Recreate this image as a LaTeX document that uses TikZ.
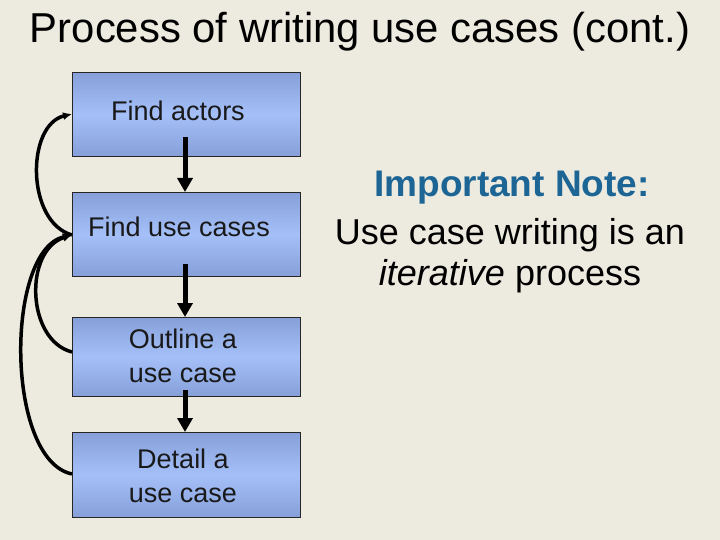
\documentclass[tikz,border=0pt]{standalone}
\usepackage{fontspec}
\setmainfont{Liberation Sans}
\usetikzlibrary{arrows.meta}
\definecolor{bg}{HTML}{EDEAE0}
\definecolor{boxtop}{HTML}{869FD8}
\definecolor{boxmid}{HTML}{A5C0F9}
\definecolor{notecol}{HTML}{1C6595}
\tikzset{
  px/.style={x=1pt,y=-1pt},
  stepbox/.style={draw=black!85, line width=0.8pt, minimum width=228pt, anchor=north west,
    top color=boxtop, bottom color=boxtop, middle color=boxmid, inner sep=0pt},
  steptext/.style={align=center, font=\fontsize{27}{34}\selectfont, text=black!90, inner sep=0pt},
  downarrow/.style={line width=5pt, -{Triangle[length=14pt,width=15pt]}},
  backarrow/.style={line width=3.5pt, -{Latex[length=9pt,width=8pt]}},
}
\begin{document}
\begin{tikzpicture}[px]
\useasboundingbox[fill=bg] (0,0) rectangle (720,540);
\node (title) at (360,32) {\resizebox{660pt}{!}{\fontsize{40}{44}\selectfont Process of writing use cases (cont.)}};
\node[stepbox, minimum height=84pt] (fa) at (72,72) {};
\node[steptext] (fat) at (178,111) {Find actors};
\node[stepbox, minimum height=84pt] (fu) at (72,192) {};
\node[steptext] (fut) at (179,227) {Find use cases};
\node[stepbox, minimum height=79pt] (ou) at (72,317) {};
\node[steptext] (out) at (183,356) {Outline a\\use case};
\node[stepbox, minimum height=85pt] (de) at (72,432) {};
\node[steptext] (det) at (183,476) {Detail a\\use case};
% down arrows
\draw[downarrow] (185,137) -- (fu.north -| 185,0);
\draw[downarrow] (185,264) -- (ou.north -| 185,0);
\draw[downarrow] (185,390) -- (de.north -| 185,0);
% back arrows
\coordinate (faL) at (72,114);
\coordinate (fuL) at (72,235);
\coordinate (ouL) at (72,352);
\coordinate (deL) at (72,474);
\draw[backarrow] (fuL) .. controls (26,222) and (26,125) .. (faL);
\draw[backarrow] (ouL) .. controls (26,340) and (24,250) .. (fuL);
\draw[backarrow] (deL) .. controls (5,460) and (5,250) .. (fuL);
% note
\node[font=\bfseries\fontsize{37}{42}\selectfont, text=notecol] (nt) at (512,188) {Important Note:};
\node[font=\fontsize{36}{41}\selectfont, align=center] (nb) at (510,256) {Use case writing is an\\\textit{iterative} process};
\end{tikzpicture}
\end{document}
